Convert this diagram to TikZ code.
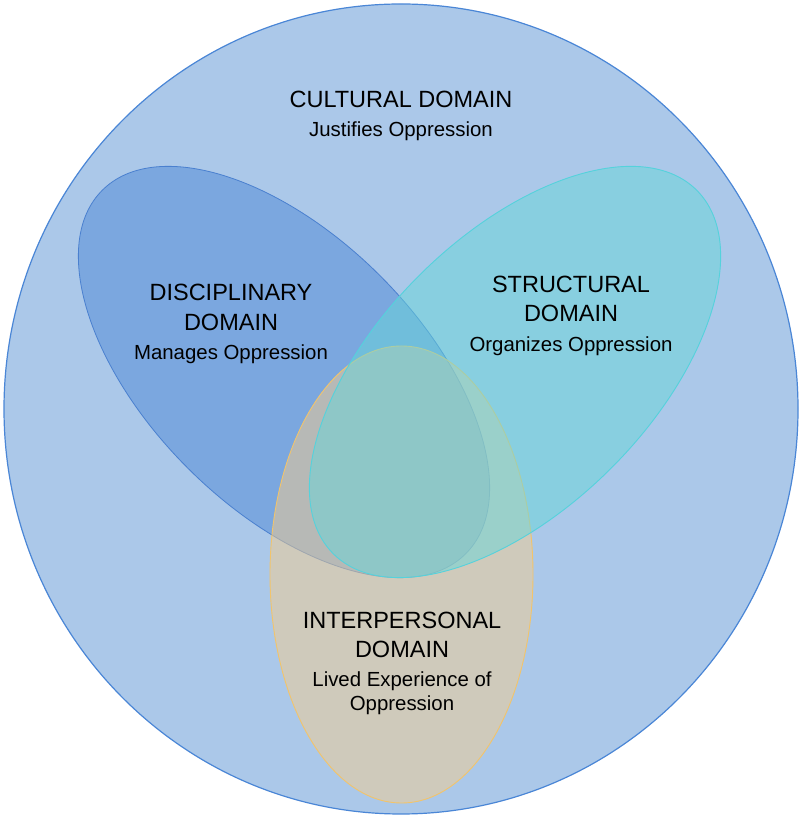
\documentclass[tikz,border=0pt]{standalone}
\usepackage{fontspec}
\setmainfont{Liberation Sans}
\definecolor{culturefill}{RGB}{171,200,233}
\definecolor{culturedraw}{RGB}{74,134,214}
\definecolor{disciplinefill}{RGB}{123,167,223}
\definecolor{disciplinedraw}{RGB}{74,128,207}
\definecolor{structurefill}{RGB}{103,214,217}
\definecolor{structuredraw}{RGB}{85,210,220}
\definecolor{personfill}{RGB}{243,204,143}
\definecolor{persondraw}{RGB}{242,196,107}
\begin{document}
\begin{tikzpicture}[
        x=1pt, y=1pt,
        cultural/.style={draw=culturedraw, line width=1.2pt, fill=culturefill},
        disciplinary/.style={draw=disciplinedraw, line width=0.8pt, fill=disciplinefill},
        interpersonal/.style={draw=persondraw, line width=0.9pt, fill=personfill, fill opacity=0.5},
        structural/.style={draw=structuredraw, line width=0.9pt, fill=structurefill, fill opacity=0.5},
        domainname/.style={anchor=base, inner sep=0pt, text=black, font=\fontsize{23.5}{28}\selectfont},
        domainrole/.style={anchor=base, inner sep=0pt, text=black, font=\fontsize{20.4}{24}\selectfont}
    ]
    \useasboundingbox (0,0) rectangle (800,818);
    \fill[white] (0,0) rectangle (800,818);

    % the four domains
    \draw[cultural] (401,409) ellipse[x radius=397, y radius=405];
    \draw[disciplinary, rotate around={-45:(284,446)}] (284,446) ellipse[x radius=257, y radius=136];
    \draw[interpersonal] (401.5,243.5) ellipse[x radius=131.5, y radius=228.5];
    \draw[structural, rotate around={45:(515,446)}] (515,446) ellipse[x radius=257, y radius=136];

    % labels
    \node[domainname] (culttitle) at (401,710) {CULTURAL DOMAIN};
    \node[domainrole] (culttext) at (401,681) {Justifies Oppression};

    \node[domainname] (disctitle) at (231,517) {DISCIPLINARY};
    \node[domainname] (discdomain) at (231,487) {DOMAIN};
    \node[domainrole] (disctext) at (231,458) {Manages Oppression};

    \node[domainname] (structtitle) at (571,525) {STRUCTURAL};
    \node[domainname] (structdomain) at (571,496) {DOMAIN};
    \node[domainrole] (structtext) at (571,466) {Organizes Oppression};

    \node[domainname] (perstitle) at (402,189) {INTERPERSONAL};
    \node[domainname] (persdomain) at (402,160) {DOMAIN};
    \node[domainrole] (perstext) at (402,131) {Lived Experience of};
    \node[domainrole] (perstext2) at (402,107) {Oppression};
\end{tikzpicture}
\end{document}
